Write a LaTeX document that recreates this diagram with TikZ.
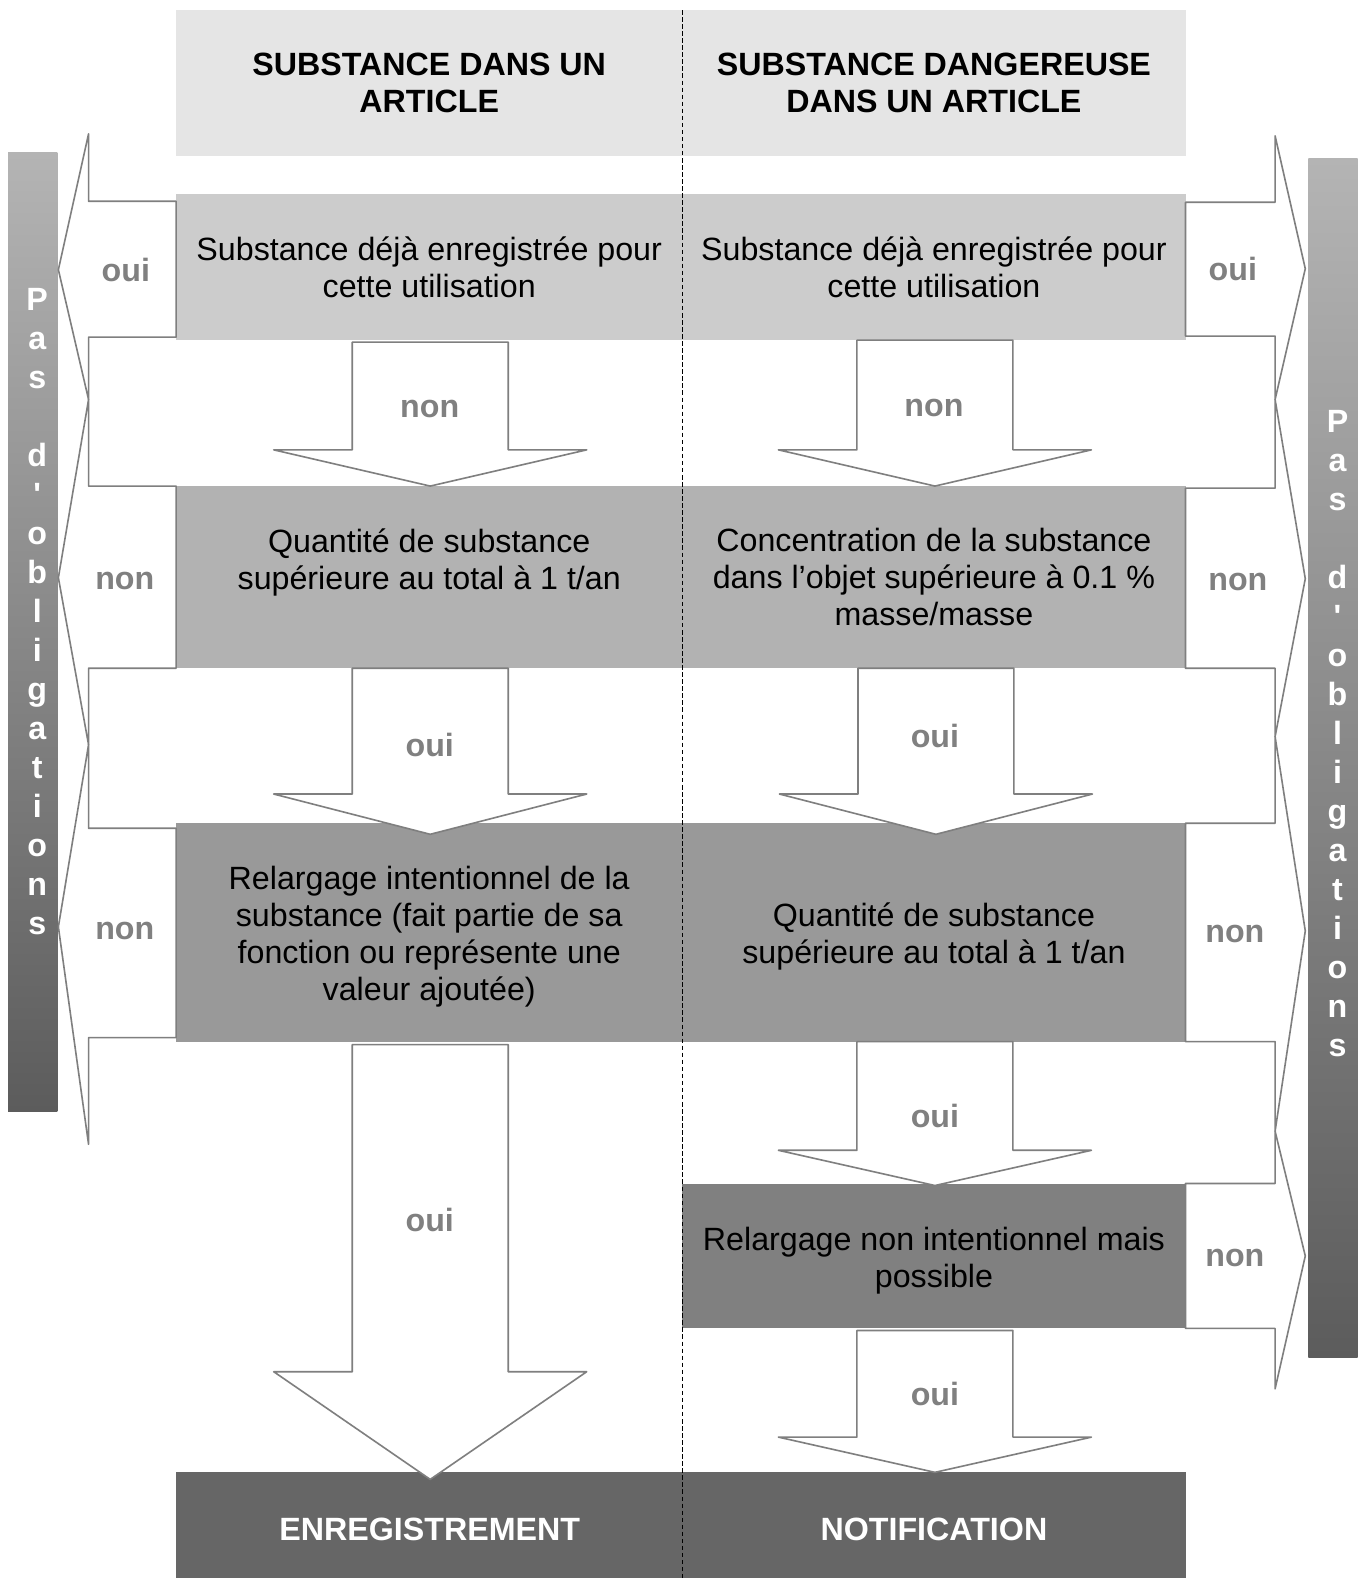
\documentclass[tikz,border=0pt]{standalone}
\usepackage{fontspec}
\setmainfont{Liberation Sans}
\usetikzlibrary{calc}

\definecolor{hdr}{HTML}{E5E5E5}
\definecolor{rowa}{HTML}{CCCCCC}
\definecolor{rowb}{HTML}{B2B2B2}
\definecolor{rowc}{HTML}{999999}
\definecolor{rowd}{HTML}{808080}
\definecolor{rowe}{HTML}{666666}
\definecolor{edge}{HTML}{7F7F7F}
\definecolor{lbl}{HTML}{808080}
\definecolor{bartop}{HTML}{B4B4B4}
\definecolor{barbot}{HTML}{5C5C5C}

\tikzset{
  band/.style={rectangle, draw=none, inner sep=0pt, outer sep=0pt, align=center,
    text=black, font=\fontsize{32}{36.7}\selectfont},
  bandtext/.style={inner sep=0pt, align=center, text=black,
    font=\fontsize{32}{36.7}\selectfont},
  hdrband/.style={band, fill=hdr, font=\bfseries\fontsize{32}{36.7}\selectfont},
  endband/.style={band, fill=rowe},
  endtext/.style={inner sep=0pt, text=white, font=\bfseries\fontsize{32}{36.7}\selectfont},
  blockarrow/.style={draw=edge, fill=white, line width=1.6pt, line join=round},
  arrowlabel/.style={text=lbl, font=\bfseries\fontsize{32}{36}\selectfont,
    inner sep=0pt, text height=23pt, text depth=0pt},
  sidebar/.style={rectangle, draw=none, inner sep=0pt, minimum width=49pt,
    top color=bartop, bottom color=barbot},
  barletter/.style={text=white, font=\bfseries\fontsize{32}{36}\selectfont, inner sep=0pt},
  divider/.style={black, line width=1.5pt, dash pattern=on 4.5pt off 2.5pt}
}

% block arrows: x centre, shaft top, shoulder, tip
\newcommand\DownBlock[4]{%
  \draw[blockarrow] ({#1-77.5},#2) -- ({#1-77.5},#3) -- ({#1-155.5},#3) -- (#1,#4)
    -- ({#1+155.5},#3) -- ({#1+77.5},#3) -- ({#1+77.5},#2) -- cycle;}
% side arrows: shaft top, shaft bottom, head top, tip, head bottom
\newcommand\LeftBlock[5]{%
  \draw[blockarrow] (175,#1) -- (88,#1) -- (88,#3) -- (58,#4) -- (88,#5)
    -- (88,#2) -- (175,#2) -- cycle;}
\newcommand\RightBlock[5]{%
  \draw[blockarrow] (1178,#1) -- (1267,#1) -- (1267,#3) -- (1297,#4) -- (1267,#5)
    -- (1267,#2) -- (1178,#2) -- cycle;}

\begin{document}
\begin{tikzpicture}[x=1pt,y=-1pt]
\useasboundingbox (0,0) rectangle (1355,1568);
\fill[white] (0,0) rectangle (1355,1568);

% column headers
\node[hdrband, minimum width=503pt, minimum height=145pt] (hl) at (426.5,82.5)
  {SUBSTANCE DANS UN\\ARTICLE};
\node[hdrband, minimum width=500pt, minimum height=145pt] (hr) at (928,82.5)
  {SUBSTANCE DANGEREUSE\\DANS UN ARTICLE};

% questions, left column
\node[band, fill=rowa, minimum width=503pt, minimum height=145pt] (q1l) at (426.5,265.5)
  {Substance déjà enregistrée pour\\cette utilisation};
\node[band, fill=rowb, minimum width=503pt, minimum height=181pt] (q2l) at (426.5,573.5)
  {Quantité de substance\\supérieure au total à 1 t/an\\\mbox{}};
\node[band, fill=rowc, minimum width=503pt, minimum height=217pt] (q3l) at (426.5,926.5) {};
\node[bandtext] (t3l) at (426.5,930.5)
  {Relargage intentionnel de la\\substance (fait partie de sa\\fonction ou représente une\\valeur ajoutée)};

% questions, right column
\node[band, fill=rowa, minimum width=500pt, minimum height=145pt] (q1r) at (928,265.5)
  {Substance déjà enregistrée pour\\cette utilisation};
\node[band, fill=rowb, minimum width=500pt, minimum height=181pt] (q2r) at (928,573.5)
  {Concentration de la substance\\dans l’objet supérieure à 0.1 \%\\masse/masse};
\node[band, fill=rowc, minimum width=500pt, minimum height=217pt] (q3r) at (928,926.5) {};
\node[bandtext] (t3r) at (928,930.5)
  {Quantité de substance\\supérieure au total à 1 t/an};
\node[band, fill=rowd, minimum width=500pt, minimum height=144pt] (q4r) at (928,1248) {};
\node[bandtext] (t4r) at (928,1253)
  {Relargage non intentionnel mais\\possible};

% outcomes
\node[endband, minimum width=503pt, minimum height=112pt] (regl) at (426.5,1519) {};
\node[endband, minimum width=500pt, minimum height=112pt] (notr) at (928,1519) {};
\node[endtext] (tregl) at (427,1520) {ENREGISTREMENT};
\node[endtext] (tnotr) at (928,1520) {NOTIFICATION};

% side bars
\node[sidebar, minimum height=952pt] (lbar) at (32.5,628) {};
\node[sidebar, minimum height=1192pt] (rbar) at (1324.5,753) {};
\foreach \ch [count=\i from 0] in {P,a,s,{},d,\textquotesingle,o,b,l,i,g,a,t,i,o,n,s} {
  \node[barletter, anchor=base] (la\i) at (37,{308.5+38.75*\i}) {\ch};
  \node[barletter, anchor=base] (ra\i) at (1329,{429.5+38.75*\i}) {\ch};
}

% downward block arrows
\DownBlock{427.5}{340}{447}{483}
\DownBlock{929}{338}{447}{483}
\DownBlock{427.5}{664}{789}{829}
\DownBlock{930}{664}{789}{829}
\DownBlock{427.5}{1038}{1363}{1470}
\DownBlock{929}{1035}{1143}{1178}
\DownBlock{929}{1322}{1428}{1463}

% sideways block arrows
\LeftBlock{200}{335}{133}{268}{397}
\LeftBlock{483}{664}{397}{574}{740}
\LeftBlock{823}{1031}{740}{921}{1137}
\RightBlock{201}{334}{135}{267}{397}
\RightBlock{485}{664}{397}{575}{732}
\RightBlock{818}{1035}{732}{925}{1124}
\RightBlock{1176}{1320}{1124}{1248}{1380}

% answers on the arrows
\node[arrowlabel] (a1) at (427,403) {non};
\node[arrowlabel] (a2) at (928,402) {non};
\node[arrowlabel] (a3) at (427,740) {oui};
\node[arrowlabel] (a4) at (929,731) {oui};
\node[arrowlabel] (a5) at (427,1212) {oui};
\node[arrowlabel] (a6) at (929,1109) {oui};
\node[arrowlabel] (a7) at (929,1385) {oui};
\node[arrowlabel] (s1) at (125,268) {oui};
\node[arrowlabel] (s2) at (124,574) {non};
\node[arrowlabel] (s3) at (124,922) {non};
\node[arrowlabel] (s4) at (1225,267) {oui};
\node[arrowlabel] (s5) at (1230,575) {non};
\node[arrowlabel] (s6) at (1227,925) {non};
\node[arrowlabel] (s7) at (1227,1247) {non};

% column divider
\coordinate (dtop) at (678,10);
\coordinate (dbot) at (678,1568);
\draw[divider] (dtop) -- (dbot);
\end{tikzpicture}
\end{document}
